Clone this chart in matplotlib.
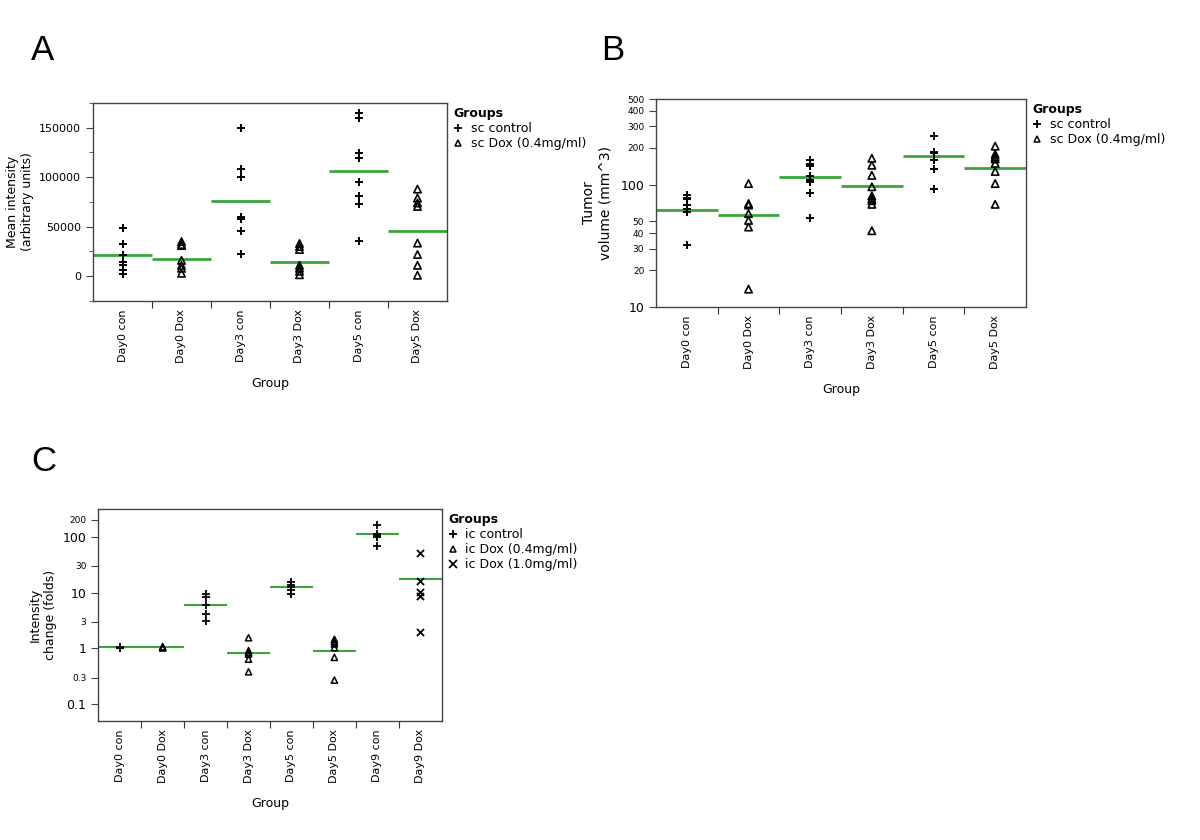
import matplotlib
matplotlib.use("Agg")
import matplotlib.pyplot as plt
from matplotlib.lines import Line2D
from matplotlib.ticker import FixedLocator, NullLocator, MultipleLocator

# ---------------- data ----------------
groups_A = ["Day0 con", "Day0 Dox", "Day3 con", "Day3 Dox", "Day5 con", "Day5 Dox"]
kind_A = ["con", "dox", "con", "dox", "con", "dox"]
values_A = [
    [49000, 33000, 21000, 14000, 11000, 6000, 2000],
    [35000, 32000, 31000, 16000, 11000, 8000, 3000],
    [150000, 108000, 100000, 60000, 58000, 46000, 22000],
    [33000, 30000, 27000, 11000, 8000, 5000, 1500],
    [165000, 160000, 124000, 119000, 95000, 81000, 73000, 36000],
    [88000, 79000, 74000, 70500, 33500, 22000, 11000, 1000],
]
means_A = [21000, 17000, 76000, 14000, 106500, 46000]

groups_B = ["Day0 con", "Day0 Dox", "Day3 con", "Day3 Dox", "Day5 con", "Day5 Dox"]
kind_B = ["con", "dox", "con", "dox", "con", "dox"]
values_B = [
    [83, 78, 76, 68, 63, 60, 32],
    [102, 70, 68, 58, 51, 45, 14],
    [159, 147, 143, 118, 110, 106, 85, 53],
    [164, 144, 119, 96, 81, 77, 74, 69, 42],
    [250, 186, 180, 159, 134, 92],
    [206, 177, 169, 162, 149, 128, 102, 69],
]
means_B = [61.5, 56, 115, 98, 171, 136]

groups_C = ["Day0 con", "Day0 Dox", "Day3 con", "Day3 Dox", "Day5 con",
            "Day5 Dox", "Day9 con", "Day9 Dox"]
kind_C = ["con_s", "dox04", "con_s", "dox04", "con_s", "dox04", "con_s", "dox10"]
values_C = [
    [1.0, 1.02, 1.05, 1.0],
    [1.07, 1.03, 1.02],
    [9.4, 8.4, 5.9, 4.1, 3.1],
    [1.55, 0.91, 0.84, 0.79, 0.64, 0.38],
    [15.6, 13.6, 12.4, 11.1, 9.3],
    [1.45, 1.32, 1.2, 1.03, 0.69, 0.27],
    [160, 110, 105, 97, 68],
    [52, 16.3, 10.2, 8.7, 2.0],
]
means_C = [1.04, 1.04, 6.1, 0.81, 12.7, 0.91, 110, 17.7]

legend_A = ["sc control", "sc Dox (0.4mg/ml)"]
legend_C = ["ic control", "ic Dox (0.4mg/ml)", "ic Dox (1.0mg/ml)"]

# ---------------- style ----------------
GREEN = "#3aa53a"
plt.rcParams["font.family"] = ["DejaVu Sans"]
TICK_FS = 8
LAB_FS = 9

marker_style = {
    "con": dict(marker="+", s=40, c="black", linewidths=1.4),
    "con_s": dict(marker="+", s=26, c="black", linewidths=1.3),
    "dox": dict(marker="^", s=28, facecolors="none", edgecolors="black", linewidths=1.2),
    "dox04": dict(marker="^", s=20, facecolors="none", edgecolors="black", linewidths=1.1),
    "dox10": dict(marker="x", s=26, c="black", linewidths=1.3),
}

fig = plt.figure(figsize=(12, 8.4), dpi=100)


def draw_panel(ax, groups, kinds, values, means, log=False, lw=2.0):
    n = len(groups)
    for i, (k, vals) in enumerate(zip(kinds, values)):
        ax.scatter([i] * len(vals), vals, zorder=3, **marker_style[k])
        ax.hlines(means[i], i - 0.5, i + 0.5, colors=GREEN, linewidth=lw, zorder=2)
    ax.set_xlim(-0.5, n - 0.5)
    if log:
        ax.set_yscale("log")
    ax.xaxis.set_major_locator(FixedLocator([i + 0.5 for i in range(n - 1)]))
    ax.xaxis.set_minor_locator(FixedLocator(list(range(n))))
    ax.set_xticklabels([], minor=False)
    ax.set_xticklabels(groups, minor=True, rotation=90, fontsize=TICK_FS)
    ax.tick_params(axis="x", which="major", length=5, color="#333333")
    ax.tick_params(axis="x", which="minor", length=0, pad=6)
    ax.set_xlabel("Group", fontsize=LAB_FS, labelpad=10)
    for s in ax.spines.values():
        s.set_color("#444444")
        s.set_linewidth(1.0)
    ax.tick_params(axis="y", which="both", color="#444444")


def legend(ax, labels, kinds):
    handles = []
    for k in kinds:
        st = marker_style[k]
        if st["marker"] == "^":
            h = Line2D([], [], linestyle="none", marker="^", markersize=5,
                       markerfacecolor="none", markeredgecolor="black", markeredgewidth=1.1)
        else:
            h = Line2D([], [], linestyle="none", marker=st["marker"], markersize=6,
                       color="black", markeredgewidth=1.3)
        handles.append(h)
    ax.legend(handles, labels, loc="upper left", bbox_to_anchor=(1.0, 1.01),
              frameon=False, title="Groups", alignment="left",
              title_fontproperties={"weight": "bold", "size": 9},
              fontsize=9, handlelength=0.8, handletextpad=0.6,
              labelspacing=0.15, borderaxespad=0.3, borderpad=0.2)


# ---------------- Panel A ----------------
axA = fig.add_axes([0.0775, 0.6417, 0.295, 0.2357])
draw_panel(axA, groups_A, kind_A, values_A, means_A)
axA.set_ylim(-25000, 175000)
axA.yaxis.set_major_locator(FixedLocator([0, 50000, 100000, 150000]))
axA.yaxis.set_minor_locator(MultipleLocator(25000))
axA.tick_params(axis="y", which="major", labelsize=TICK_FS, length=5)
axA.tick_params(axis="y", which="minor", length=3)
axA.set_ylabel("Mean intensity\n(arbitrary units)", fontsize=LAB_FS, labelpad=4)
legend(axA, legend_A, ["con", "dox"])

# ---------------- Panel B ----------------
axB = fig.add_axes([0.5467, 0.6345, 0.3083, 0.2476])
draw_panel(axB, groups_B, kind_B, values_B, means_B, log=True)
axB.set_ylim(10, 500)
ticksB = [10, 20, 30, 40, 50, 100, 200, 300, 400, 500]
axB.yaxis.set_major_locator(FixedLocator(ticksB))
axB.yaxis.set_minor_locator(NullLocator())
axB.set_yticklabels([str(t) for t in ticksB])
for t, lab in zip(ticksB, axB.get_yticklabels()):
    lab.set_fontsize(9 if t in (10, 100) else 6.5)
axB.tick_params(axis="y", which="major", length=5)
axB.set_ylabel("Tumor\nvolume (mm^3)", fontsize=LAB_FS + 1, labelpad=6)
legend(axB, legend_A, ["con", "dox"])

# ---------------- Panel C ----------------
axC = fig.add_axes([0.0819, 0.1417, 0.2862, 0.252])
draw_panel(axC, groups_C, kind_C, values_C, means_C, log=True, lw=1.5)
axC.set_ylim(0.05, 310)
ticksC = [0.1, 0.3, 1, 3, 10, 30, 100, 200]
axC.yaxis.set_major_locator(FixedLocator(ticksC))
axC.yaxis.set_minor_locator(NullLocator())
axC.set_yticklabels(["0.1", "0.3", "1", "3", "10", "30", "100", "200"])
for t, lab in zip(ticksC, axC.get_yticklabels()):
    lab.set_fontsize(9 if t in (0.1, 1, 10, 100) else 6.5)
axC.tick_params(axis="y", which="major", length=5)
axC.set_ylabel("Intensity\nchange (folds)", fontsize=LAB_FS, labelpad=4)
legend(axC, legend_C, ["con_s", "dox04", "dox10"])

# ---------------- Panel letters ----------------
for letter, x, y in [("A", 42, 50), ("B", 613, 50), ("C", 44, 461)]:
    fig.text(x / 1200, 1 - y / 840, letter, fontsize=25, family="Liberation Sans",
             ha="center", va="center")

fig.savefig("out.png", dpi=100)
